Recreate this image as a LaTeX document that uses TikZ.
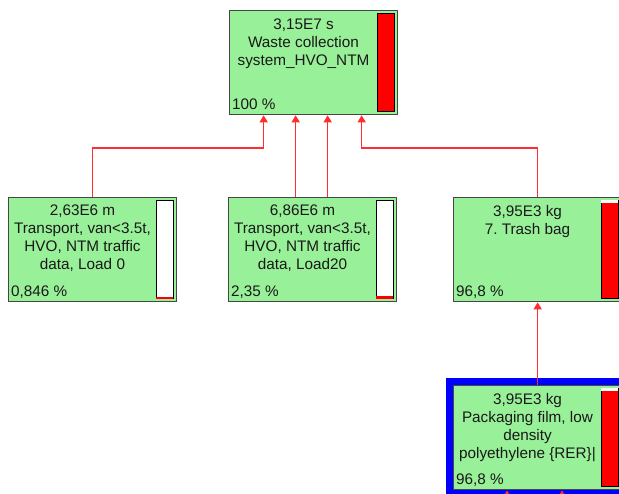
\documentclass[tikz,border=0pt]{standalone}
\usepackage{fontspec}
\setmainfont{Liberation Sans}
\usetikzlibrary{arrows.meta, positioning}

\definecolor{boxgreen}{RGB}{152,240,152}
\definecolor{linkred}{RGB}{255,45,45}
\definecolor{framegrey}{RGB}{70,70,70}

\begin{document}
\begin{tikzpicture}[x=1pt, y=-1pt,
    process node/.style={draw=framegrey, line width=1.3pt, fill=boxgreen, anchor=north west,
        inner sep=0pt, minimum width=168pt, minimum height=104pt},
    bar node/.style={draw=black, line width=0.9pt, fill=white, anchor=north west,
        inner sep=0pt, minimum width=16.5pt, minimum height=98pt},
    label node/.style={anchor=north, align=center, inner sep=0pt,
        font=\fontsize{15.3}{18}\selectfont\frenchspacing, text=black!90},
    share node/.style={anchor=base west, inner sep=0pt,
        font=\fontsize{15.3}{18}\selectfont, text=black!90},
    link/.style={draw=linkred, line width=1.3pt, -{Triangle[width=8pt, length=7pt]}}]
    \useasboundingbox (0,0) rectangle (619,494);
    \clip (0,0) rectangle (619,494);

    % selected process frame
    \fill[blue] (446,378) rectangle (640,520);

    % process boxes
    \node[process node] (waste) at (229,10) {};
    \node[process node] (vanzero) at (8,197) {};
    \node[process node] (vantwenty) at (228,197) {};
    \node[process node] (trashbag) at (453,197) {};
    \node[process node] (film) at (453,385) {};

    % contribution bars
    \node[bar node, fill=red] (wastebar) at (377,13) {};
    \node[bar node] (vanzerobar) at (156,200) {};
    \node[bar node] (vantwentybar) at (376,200) {};
    \node[bar node, fill=red] (trashbagbar) at (601,200) {};
    \node[bar node, fill=red] (filmbar) at (601,388) {};

    \fill[red] ([xshift=0.45pt]vanzerobar.south west) rectangle ([xshift=-0.45pt, yshift=1.5pt]vanzerobar.south east);
    \fill[red] ([xshift=0.45pt]vantwentybar.south west) rectangle ([xshift=-0.45pt, yshift=2.9pt]vantwentybar.south east);
    \fill[white] ([xshift=0.45pt, yshift=-0.45pt]trashbagbar.north west) rectangle ([xshift=-0.45pt, yshift=-3.3pt]trashbagbar.north east);
    \fill[white] ([xshift=0.45pt, yshift=-0.45pt]filmbar.north west) rectangle ([xshift=-0.45pt, yshift=-3.3pt]filmbar.north east);

    % texts
    \node[label node] (wastetext) at (303.5,18.5) {3,15E7 s\\Waste collection\\system\_HVO\_NTM};
    \node[label node] (vanzerotext) at (82.5,205) {2,63E6 m\\Transport, van<3.5t,\\HVO, NTM traffic\\data, Load 0};
    \node[label node] (vantwentytext) at (302.5,205) {6,86E6 m\\Transport, van<3.5t,\\HVO, NTM traffic\\data, Load20};
    \node[label node] (trashbagtext) at (527.5,205) {3,95E3 kg\\7. Trash bag};
    \node[label node] (filmtext) at (527.5,393) {3,95E3 kg\\Packaging film, low\\density\\polyethylene \{RER\}|};

    \node[share node] (wasteshare) at (232,109.5) {100 \%};
    \node[share node] (vanzeroshare) at (11,296.5) {0,846 \%};
    \node[share node] (vantwentyshare) at (231,296.5) {2,35 \%};
    \node[share node] (trashbagshare) at (456,296.5) {96,8 \%};
    \node[share node] (filmshare) at (456,484.5) {96,8 \%};

    % links
    \coordinate (bendline) at (0,148);
    \coordinate (wasteinA) at ([xshift=-50pt]waste.south);
    \coordinate (wasteinB) at ([xshift=-18pt]waste.south);
    \coordinate (wasteinC) at ([xshift=14pt]waste.south);
    \coordinate (wasteinD) at ([xshift=48pt]waste.south);
    \coordinate (filmoutA) at (507,520);
    \coordinate (filmoutB) at (562,520);

    \draw[link] (vanzero.north) -- (vanzero.north |- bendline) -| (wasteinA);
    \draw[link] (vantwenty.north -| wasteinB) -- (wasteinB);
    \draw[link] (vantwenty.north -| wasteinC) -- (wasteinC);
    \draw[link] (trashbag.north) -- (trashbag.north |- bendline) -| (wasteinD);
    \draw[link] (film.north) -- (trashbag.south);
    \draw[link] (filmoutA) -- (filmoutA |- film.south);
    \draw[link] (filmoutB) -- (filmoutB |- film.south);
\end{tikzpicture}
\end{document}
